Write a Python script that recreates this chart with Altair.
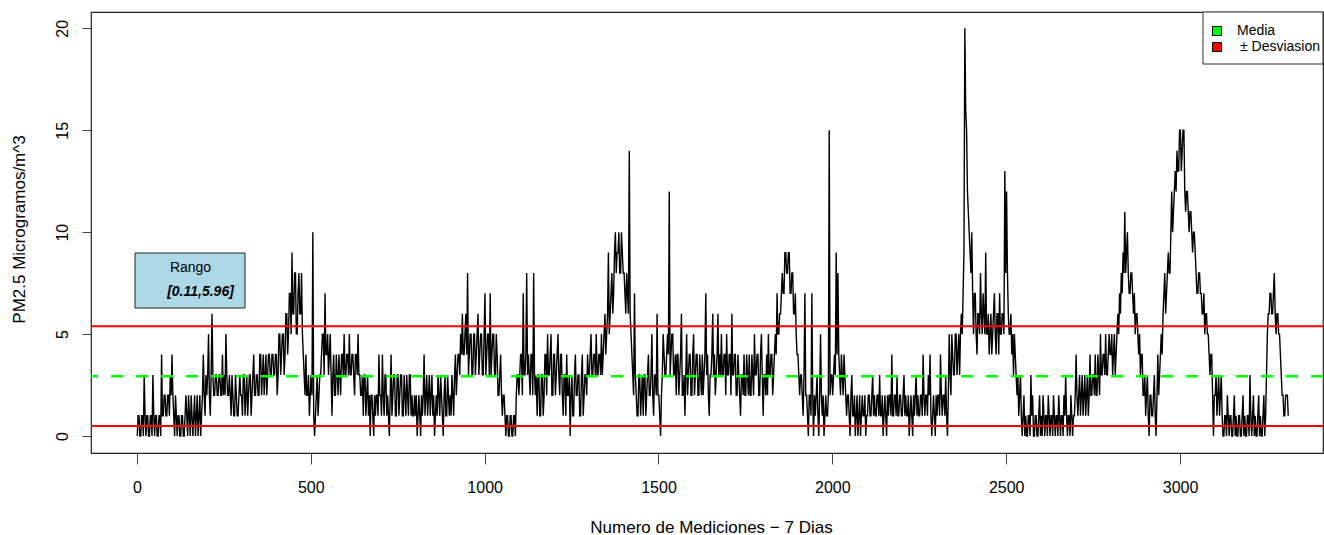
import altair as alt
import pandas as pd

seg_0000 = [0,1,0,1,3,0,1,0,1,3,0,1,0,1,4,1,2,1,2,3,
            4,1,2,0,1,0,1,0,2,0,1,2,0,2,1,0,2,1,4,1,
            2,5,1,6,2,3,2,3,2,4,3,5,2,3,1,2,1,2,1,3,
            2,3,1,3,2,3,2,4,2,3,2,4,3,2,4,3,4,3,4,3,
            4,3,5,4,5,4,6,5,7,9,6,8,5,8,6,5,3,4,2,1]
seg_0500 = [3,10,0,2,1,3,4,5,7,4,3,5,1,4,2,3,4,2,4,5,
            3,4,5,3,4,2,4,5,3,2,1,3,2,1,0,2,0,1,2,4,
            2,4,1,3,2,0,4,2,3,1,3,2,3,1,2,3,1,3,2,1,
            1,0,2,0,1,4,2,1,3,2,1,0,2,3,1,2,0,3,1,2,
            2,3,1,4,3,4,5,6,4,6,8,4,5,3,5,4,6,4,5,3]
seg_1000 = [7,4,5,7,4,5,3,4,2,4,1,2,0,1,0,1,0,1,2,3,
            3,4,7,3,8,4,2,4,8,2,1,3,1,3,2,4,5,3,5,2,
            4,3,5,2,4,1,3,4,2,0,3,1,4,2,3,1,4,2,3,4,
            3,5,3,4,5,3,4,5,4,6,5,9,6,8,7,10,9,10,8,9,
            8,6,7,14,5,3,7,2,1,3,2,1,3,2,4,2,5,1,3,6]
seg_1500 = [2,0,3,4,3,5,12,4,5,3,2,4,3,6,2,1,5,3,4,2,
            5,3,4,2,3,4,3,7,4,1,3,6,4,3,6,4,5,3,4,5,
            3,4,6,3,4,2,3,1,3,4,2,3,4,2,3,5,3,4,2,5,
            1,3,4,5,3,4,3,5,7,5,6,8,7,9,8,9,7,8,6,5,
            4,2,3,1,7,2,0,2,7,0,1,3,0,5,1,0,2,1,15,3]
seg_2000 = [2,4,9,8,3,4,2,3,1,2,0,3,1,0,2,1,0,2,1,0,
            1,2,1,3,2,1,2,3,1,0,2,0,1,2,4,1,2,3,1,2,
            1,3,2,1,0,2,0,1,3,2,1,2,4,1,2,3,4,0,2,0,
            1,2,4,1,2,3,0,5,2,4,3,5,4,3,6,7,20,15,11,9,
            10,5,7,4,6,8,5,6,9,5,4,6,5,7,4,6,7,5,6,13]
seg_2500 = [12,6,5,4,3,4,2,1,3,0,2,1,0,1,3,2,0,1,0,2,
            1,2,0,1,2,0,1,2,0,1,2,0,1,2,3,0,1,2,0,1,
            4,1,3,2,1,3,2,1,4,2,3,4,2,3,5,3,4,5,3,5,
            4,3,5,4,6,7,8,9,11,9,8,7,8,6,5,6,4,3,4,2,
            1,3,0,2,1,3,0,4,3,5,6,8,7,9,8,12,11,13,14,13]
seg_3000 = [15,14,15,11,12,10,11,9,10,8,7,8,7,6,5,6,5,3,4,0,
            2,1,3,2,1,0,1,2,0,1,0,2,1,0,1,0,2,1,0,1,
            3,0,2,1,0,2,1,0,2,1,5,6,7,6,8,5,6,5,3,2,
            1,2,1]

# readings half way between the ones above (the other edge of each dense band)
mid_0000 = [1,0,1,0,1,1,0,1,0,1,1,0,1,0,1,2,1,2,1,2,
            2,0,1,1,0,1,0,1,1,2,0,1,1,0,2,1,0,2,2,3,
            3,2,3,3,2,3,2,3,2,2,2,3,2,2,3,1,3,1,2,2,
            1,3,2,1,3,1,3,2,3,2,4,2,4,3,2,4,3,4,3,4,
            2,5,3,5,3,6,4,7,5,6,8,5,7,6,8,4,2,2,3,2]
mid_0500 = [2,1,1,3,2,3,5,3,4,5,4,3,3,2,4,2,3,4,3,3,
            4,3,3,4,3,4,3,3,2,3,3,1,3,2,2,1,2,2,1,2,
            1,2,3,1,1,2,1,3,1,3,1,3,1,3,1,2,3,1,1,2,
            2,1,1,2,2,1,3,2,1,3,2,1,1,2,3,1,2,1,3,1,
            1,2,3,2,4,3,4,4,5,4,3,5,3,5,3,5,3,5,3,5]
mid_1000 = [3,5,3,3,5,3,5,2,3,2,2,1,1,0,1,0,1,0,3,2,
            4,2,3,4,3,3,4,2,3,3,3,1,3,1,4,2,3,4,2,4,
            2,4,3,4,2,3,1,2,3,2,1,3,2,3,1,3,1,3,2,3,
            4,3,4,3,3,4,3,3,5,4,6,5,7,6,9,8,9,8,10,8,
            7,8,6,6,4,2,3,1,3,1,3,3,1,3,2,3,2,3,2,2]
mid_1500 = [1,2,5,3,4,4,3,5,3,4,4,2,4,2,3,3,2,4,2,4,
            2,4,2,4,2,2,4,3,2,3,4,3,2,4,3,3,3,4,2,3,
            4,2,3,4,2,4,2,3,2,2,4,2,2,4,2,3,4,2,4,3,
            3,2,2,3,4,2,4,4,5,6,7,7,9,8,9,7,8,6,7,4,
            3,3,2,3,2,1,2,1,2,2,2,1,2,2,2,1,1,2,2,3]
mid_2000 = [3,3,4,4,2,3,4,2,2,1,2,1,2,1,0,2,1,1,2,1,
            2,1,2,1,1,2,1,1,2,1,1,2,2,1,1,2,1,1,2,1,
            2,1,1,2,1,1,2,2,1,1,2,1,2,2,1,2,1,1,1,2,
            2,1,2,2,1,1,2,3,5,3,5,3,5,5,5,9,16,12,10,8,
            7,7,5,6,5,6,7,5,5,6,5,4,6,5,6,4,5,6,5,8]
mid_2500 = [8,5,6,5,5,3,3,2,1,1,0,0,1,0,1,0,1,0,1,0,
            0,1,1,0,1,1,0,1,1,0,1,1,0,1,1,1,0,1,1,2,
            2,2,1,3,2,1,3,2,2,3,2,2,4,2,3,4,3,3,4,4,
            5,4,3,5,5,6,7,8,8,10,7,8,7,7,6,5,5,4,2,3,
            2,1,2,1,2,1,2,2,4,4,7,6,8,8,10,10,12,12,13,15]
mid_3000 = [13,15,12,12,11,11,10,10,9,7,8,7,6,7,6,5,4,4,2,2,
            3,2,1,3,0,1,0,1,1,0,1,0,0,1,0,1,0,0,1,0,
            1,1,0,0,1,0,0,1,0,3,6,7,6,7,6,6,5,4,2,1,
            2,2]

main_vals = seg_0000 + seg_0500 + seg_1000 + seg_1500 + seg_2000 + seg_2500 + seg_3000
mid_vals = mid_0000 + mid_0500 + mid_1000 + mid_1500 + mid_2000 + mid_2500 + mid_3000
mid_vals = mid_vals[:len(main_vals) - 1]

STEP = 5
rows = [(1 + STEP * i, v) for i, v in enumerate(main_vals)]
rows += [(1 + STEP * i + STEP / 2, v) for i, v in enumerate(mid_vals)]
df = pd.DataFrame(rows, columns=["n", "pm"]).sort_values("n").reset_index(drop=True)

MEAN = 2.94
SD = 2.45
x_ticks = [0, 500, 1000, 1500, 2000, 2500, 3000]
y_ticks = [0, 5, 10, 15, 20]

FONT = "Liberation Sans"
W, H = 1232, 441

x_scale = alt.Scale(domain=[-132, 3411], nice=False, zero=False)
y_scale = alt.Scale(domain=[-0.83, 20.8], nice=False, zero=False)

line = alt.Chart(df).mark_line(color="black", strokeWidth=1.4, clip=True).encode(
    x=alt.X("n:Q", scale=x_scale,
            axis=alt.Axis(values=x_ticks, format="d", title="Numero de Mediciones \u2212 7 Dias",
                          grid=False, domain=False, tickSize=11, tickColor="#444",
                          labelPadding=28, labelBaseline="alphabetic", labelFontSize=16,
                          labelColor="black", titleFontSize=17, titleFontWeight="normal",
                          titleColor="black", titleX=620, titleY=79,
                          titleBaseline="alphabetic", titleAlign="center")),
    y=alt.Y("pm:Q", scale=y_scale,
            axis=alt.Axis(values=y_ticks, format="d", title="PM2.5 Microgramos/m^3",
                          grid=False, domain=False, tickSize=9, tickColor="#444",
                          labelAngle=270, labelAlign="center", labelBaseline="alphabetic",
                          labelPadding=15, labelFontSize=16, labelColor="black",
                          titleFontSize=17, titleFontWeight="normal", titleColor="black",
                          titleAngle=270, titleX=-67, titleY=217,
                          titleAlign="center", titleBaseline="alphabetic")),
)

one = pd.DataFrame({"k": [0]})

sd_lines = alt.Chart(pd.DataFrame({"y": [MEAN - SD, MEAN + SD]})).mark_rule(
    color="#FF0000", strokeWidth=2).encode(y=alt.Y("y:Q", scale=y_scale))

mean_line = alt.Chart(pd.DataFrame({"y": [MEAN]})).mark_rule(
    color="#00FF00", strokeWidth=2.5, strokeDash=[12, 13]).encode(y=alt.Y("y:Q", scale=y_scale))

# "Rango" annotation box
rango_box = alt.Chart(one).mark_rect(fill="#ADD8E6", stroke="#222", strokeWidth=1).encode(
    x=alt.value(44), x2=alt.value(154), y=alt.value(241), y2=alt.value(296))
rango_t1 = alt.Chart(one).mark_text(font=FONT, fontSize=14, align="center",
                                    baseline="middle", color="black", text="Rango").encode(
    x=alt.value(99.5), y=alt.value(256))
rango_t2 = alt.Chart(one).mark_text(font=FONT, fontSize=14, align="center",
                                    baseline="middle", color="black", fontStyle="italic",
                                    fontWeight="bold", text="[0.11,5.96]").encode(
    x=alt.value(109.5), y=alt.value(280))

# legend box
leg_box = alt.Chart(one).mark_rect(fill="white", stroke="#333", strokeWidth=1).encode(
    x=alt.value(1112), x2=alt.value(1232), y=alt.value(0), y2=alt.value(52))
leg_g = alt.Chart(one).mark_rect(fill="#00FF00", stroke="black", strokeWidth=1).encode(
    x=alt.value(1121.5), x2=alt.value(1130.5), y=alt.value(14.5), y2=alt.value(23.5))
leg_r = alt.Chart(one).mark_rect(fill="#FF0000", stroke="black", strokeWidth=1).encode(
    x=alt.value(1121.5), x2=alt.value(1130.5), y=alt.value(30.5), y2=alt.value(39.5))
leg_t1 = alt.Chart(one).mark_text(font=FONT, fontSize=14, align="left", baseline="middle",
                                  color="black", text="Media").encode(
    x=alt.value(1146), y=alt.value(19))
leg_t2 = alt.Chart(one).mark_text(font=FONT, fontSize=14, align="left", baseline="middle",
                                  color="black", text="\u00b1 Desviasion").encode(
    x=alt.value(1149), y=alt.value(35))

chart = alt.layer(
    line, sd_lines, mean_line, rango_box, rango_t1, rango_t2,
    leg_box, leg_g, leg_r, leg_t1, leg_t2
).properties(
    width=W, height=H,
    autosize=alt.AutoSizeParams(type="none"),
    padding={"left": 91, "top": 12, "right": 1, "bottom": 82},
    background="white",
).configure_view(
    stroke="#222", strokeWidth=1.2
).configure_axis(
    labelFont=FONT, titleFont=FONT
)

chart.save("out.html", embed_options={"renderer": "svg", "actions": False})
